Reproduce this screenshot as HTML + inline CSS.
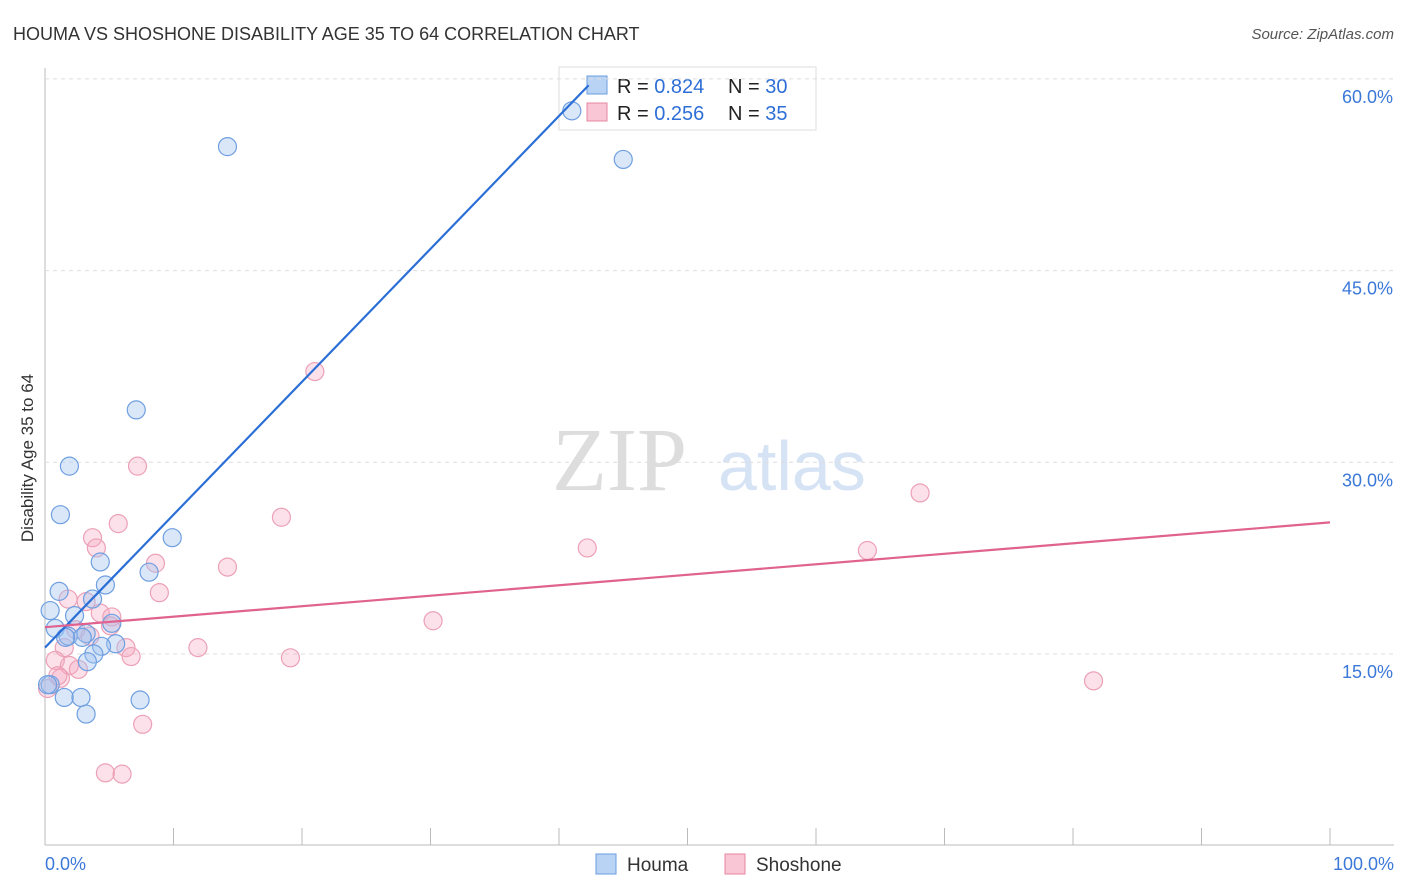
<!DOCTYPE html>
<html><head><meta charset="utf-8"><style>
body{margin:0;background:#fff;font-family:"Liberation Sans",sans-serif}
svg{display:block}
</style></head><body>
<svg width="1406" height="892" id="chart">
<text x="13" y="40" font-size="18" fill="#333">HOUMA VS SHOSHONE DISABILITY AGE 35 TO 64 CORRELATION CHART</text>
<text x="1394" y="39" font-size="15" fill="#555" font-style="italic" text-anchor="end">Source: ZipAtlas.com</text>
<text x="30" y="455" font-size="17" fill="#333" text-anchor="middle" transform="rotate(-90 33 455)">Disability Age 35 to 64</text>
<text x="552" y="490" font-size="90" fill="#ddd" font-family="Liberation Serif,serif">ZIP</text>
<text x="718" y="490" font-size="70" fill="#d6e3f5">atlas</text>
<g>
<rect x="559" y="67" width="257" height="63" fill="#fff" stroke="#ddd"/>
<rect x="587" y="76" width="20" height="18" fill="#b9d3f5" stroke="#6a9de0"/>
<rect x="587" y="103" width="20" height="18" fill="#f9c6d6" stroke="#e8879f"/>
<text x="617" y="93" font-size="20" fill="#222">R = <tspan fill="#2d6fd6">0.824</tspan></text>
<text x="728" y="93" font-size="20" fill="#222">N = <tspan fill="#2d6fd6">30</tspan></text>
<text x="617" y="120" font-size="20" fill="#222">R = <tspan fill="#2d6fd6">0.256</tspan></text>
<text x="728" y="120" font-size="20" fill="#222">N = <tspan fill="#2d6fd6">35</tspan></text>
</g>
<g id="grid"></g><g id="pts"></g><g id="lines"></g>
<g>
<rect x="596" y="854" width="20" height="20" fill="#b9d3f5" stroke="#6a9de0"/>
<text x="627" y="871" font-size="19" fill="#333">Houma</text>
<rect x="725" y="854" width="20" height="20" fill="#f9c6d6" stroke="#e8879f"/>
<text x="756" y="871" font-size="19" fill="#333">Shoshone</text>
</g>
<text x="45" y="870" font-size="18" fill="#3b78d8">0.0%</text>
<text x="1394" y="870" font-size="18" fill="#3b78d8" text-anchor="end">100.0%</text>
</svg>
<script>
const yTicks=[15,30,45,60];
const houmaX=[14.2,45.0,41.0,7.1,1.9,1.2,9.9,4.3,8.1,4.7,1.1,3.7,0.4,2.3,5.2,0.8,1.8,3.2,2.9,1.6,5.5,4.4,3.8,3.3,0.4,1.5,2.8,7.4,3.2,0.2];
const houmaY=[54.7,53.7,57.5,34.1,29.7,25.9,24.1,22.2,21.4,20.4,19.9,19.3,18.4,18.0,17.4,17.0,16.4,16.6,16.3,16.3,15.8,15.6,15.0,14.4,12.6,11.6,11.6,11.4,10.3,12.6];
const shoX=[21.0,7.2,68.1,18.4,5.7,3.7,4.0,42.2,64.0,8.6,14.2,8.9,1.8,3.2,4.3,5.2,5.1,30.2,2.4,3.5,11.9,6.3,1.5,6.7,19.1,0.8,1.9,2.6,1.2,81.6,0.2,7.6,4.7,6.0,1.0];
const shoY=[37.1,29.7,27.6,25.7,25.2,24.1,23.3,23.3,23.1,22.1,21.8,19.8,19.3,19.1,18.2,17.9,17.2,17.6,16.9,16.4,15.5,15.5,15.5,14.8,14.7,14.5,14.1,13.8,13.1,12.9,12.3,9.5,5.7,5.6,13.3];
const houmaTrend=[15.5,1.04];
const shoTrend=[17.1,0.082];
const xs=v=>45+v*12.85, ys=v=>654-(v-15)*12.78;
const NS='http://www.w3.org/2000/svg';
function mk(t,a,p){const e=document.createElementNS(NS,t);for(const k in a)e.setAttribute(k,a[k]);p.appendChild(e);return e;}
const g=document.getElementById('grid');
mk('line',{x1:45,y1:68,x2:45,y2:845,stroke:'#bbb'},g);
mk('line',{x1:45,y1:845,x2:1394,y2:845,stroke:'#bbb'},g);
for(let i=0;i<=10;i++){const l=mk('line',{x1:45+i*128.5,y1:828,x2:45+i*128.5,y2:845,stroke:'#bbb'},g);

}
yTicks.forEach(t=>{const l=mk('line',{x1:45,y1:ys(t),x2:1394,y2:ys(t),stroke:'#ddd','stroke-dasharray':'4,4'},g);


const tx=mk('text',{x:1393,y:ys(t)+24,'font-size':18,fill:'#3b78d8','text-anchor':'end'},g);tx.textContent=t.toFixed(1)+'%';

});
const p=document.getElementById('pts');
shoX.forEach((x,i)=>{const c=mk('circle',{cx:xs(x),cy:ys(shoY[i]),r:9,fill:'rgba(246,170,195,0.35)',stroke:'#eca0b6','stroke-width':1.2},p);

});
houmaX.forEach((x,i)=>{const c=mk('circle',{cx:xs(x),cy:ys(houmaY[i]),r:9,fill:'rgba(160,195,240,0.4)',stroke:'#6f9fe0','stroke-width':1.2},p);

});
const L=document.getElementById('lines');
const hx2=(59.5-houmaTrend[0])/houmaTrend[1];
const hl=mk('line',{x1:xs(0),y1:ys(houmaTrend[0]),x2:xs(hx2),y2:ys(houmaTrend[0]+houmaTrend[1]*hx2),stroke:'#2b6fd6','stroke-width':2.2},L);


const sl=mk('line',{x1:xs(0),y1:ys(shoTrend[0]),x2:xs(100),y2:ys(shoTrend[0]+shoTrend[1]*100),stroke:'#e0628e','stroke-width':2.2},L);


</script>
</body></html>
